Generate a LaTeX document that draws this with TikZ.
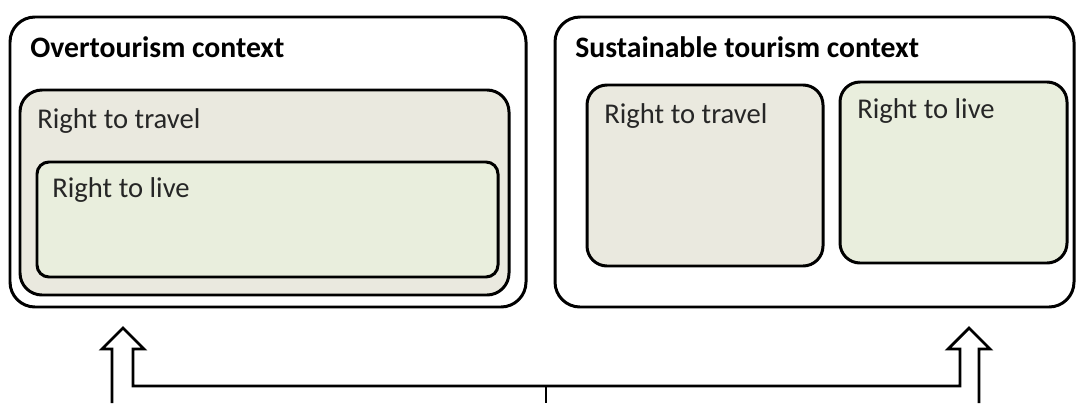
\documentclass[tikz,border=0pt]{standalone}
\usepackage{fontspec}
\setmainfont{Carlito}
\usetikzlibrary{calc}
\definecolor{travelfill}{RGB}{234,233,223}
\definecolor{livefill}{RGB}{233,238,221}

\begin{document}
\begin{tikzpicture}[x=0.02cm, y=0.02cm,
  box/.style={draw=black, line width=1.7pt},
  outline/.style={draw=black, line width=1.6pt, line join=miter},
  heading/.style={font=\fontsize{16.9}{20}\selectfont\bfseries, anchor=base west, inner sep=0pt},
  label/.style={font=\fontsize{16.3}{19}\selectfont, anchor=base west, inner sep=0pt, text=black!85}]
  \useasboundingbox (0,0) rectangle (1081,403);

  % overtourism context
  \draw [box, rounded corners=0.5cm] (10,386) rectangle (526,96);
  \draw [box, fill=travelfill, rounded corners=0.44cm] (20,313) rectangle (509,108);
  \draw [box, fill=livefill, rounded corners=0.24cm] (37,241) rectangle (498,126);
  \node [heading] (overtitle) at (30,345) {Overtourism context};
  \node [label] (overtravel) at (37,275) {Right to travel};
  \node [label] (overlive) at (52,206) {Right to live};

  % sustainable tourism context
  \draw [box, rounded corners=0.5cm] (555,386) rectangle (1074,96);
  \draw [box, fill=travelfill, rounded corners=0.4cm] (587,318) rectangle (823,137);
  \draw [box, fill=livefill, rounded corners=0.4cm] (840,321) rectangle (1067,140);
  \node [heading] (sustitle) at (575,345) {Sustainable tourism context};
  \node [label] (sustravel) at (604,280) {Right to travel};
  \node [label] (suslive) at (857,285) {Right to live};

  % hollow arrows
  \coordinate (lefttip) at (123,75);
  \coordinate (righttip) at (969,75);
  \coordinate (junction) at (546,17);
  \draw [outline] (lefttip) ++(-11,-75) -- ++(0,54) -- ++(-10,0) -- (lefttip)
    -- ++(21,-21) -- ++(-11,0) -- ++(0,-37) -- ($(righttip)+(-9,-58)$)
    -- ++(0,37) -- ++(-12,0) -- (righttip) -- ++(21,-21) -- ++(-11,0) -- ++(0,-54);
  \draw [outline] (junction) -- ++(0,-17);
\end{tikzpicture}
\end{document}
